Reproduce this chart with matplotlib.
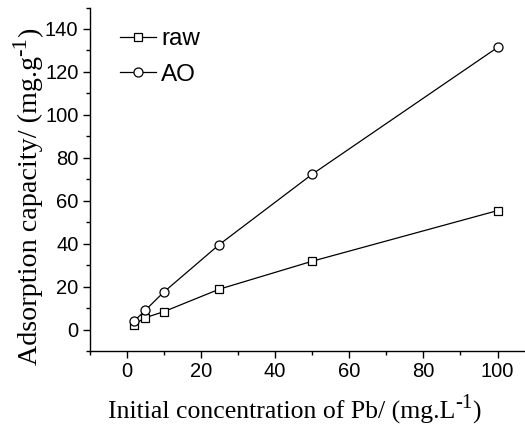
import matplotlib
matplotlib.use("Agg")
import matplotlib.pyplot as plt
from matplotlib.ticker import MultipleLocator
from matplotlib.transforms import IdentityTransform

conc = [2, 5, 10, 25, 50, 100]
raw = [2.3, 5.5, 8.3, 18.8, 31.8, 55.4]
ao = [3.9, 8.9, 17.4, 39.6, 72.3, 131.4]

plt.rcParams['font.family'] = ['Liberation Sans', 'DejaVu Sans']

W, H = 525, 425
fig = plt.figure(figsize=(W / 100, H / 100), dpi=100)
ax = fig.add_axes([89.5 / W, 1 - 351 / H, 1 - 89.5 / W, (351 - 7.5) / H])

ax.plot(conc, raw, color='black', lw=0.9, marker='s', markersize=5.5,
        markerfacecolor='white', markeredgecolor='black', markeredgewidth=0.9, label='raw')
ax.plot(conc, ao, color='black', lw=0.9, marker='o', markersize=6.5,
        markerfacecolor='white', markeredgecolor='black', markeredgewidth=0.9, label='AO')

ax.set_xlim(-10, 107.4)
ax.set_ylim(-10, 150)
ax.set_xticks([0, 20, 40, 60, 80, 100])
ax.set_yticks([0, 20, 40, 60, 80, 100, 120, 140])
ax.xaxis.set_minor_locator(MultipleLocator(10))
ax.yaxis.set_minor_locator(MultipleLocator(10))

for s in ['top', 'right']:
    ax.spines[s].set_visible(False)
for s in ['left', 'bottom']:
    ax.spines[s].set_linewidth(1.0)

ax.tick_params(which='major', direction='out', length=5, width=1.0,
               labelsize=14.5, pad=3)
ax.tick_params(which='minor', direction='out', length=3, width=1.0)

ax.legend(loc='upper left', bbox_to_anchor=((120 - 89.5) / 435.5, 0.94), frameon=False,
          prop={'family': 'Liberation Sans', 'size': 17.5}, borderpad=0,
          handlelength=1.5, handletextpad=0.2, labelspacing=0.55, borderaxespad=0)


def compose(pieces, x0, y0, size, vertical, family='Liberation Serif'):
    r = fig.canvas.get_renderer()
    pos = 0.0
    arts = []
    for txt, scale, rise in pieces:
        s = size * scale
        dr = rise * size * fig.dpi / 72
        if vertical:
            t = fig.text(x0 - dr, y0 + pos, txt, rotation=90, rotation_mode='anchor',
                         ha='left', va='baseline', fontsize=s, family=family,
                         transform=IdentityTransform())
            ext = t.get_window_extent(r).height
        else:
            t = fig.text(x0 + pos, y0 + dr, txt, ha='left', va='baseline',
                         fontsize=s, family=family, transform=IdentityTransform())
            ext = t.get_window_extent(r).width
        pos += ext
        arts.append(t)
    return pos, arts


def fitted(pieces, x0, y0, target, vertical):
    L, arts = compose(pieces, x0, y0, 18, vertical)
    for a in arts:
        a.remove()
    compose(pieces, x0, y0, 18 * target / L, vertical)


xlab = [("Initial concentration of Pb/ (mg.L", 1.0, 0.0), ("-1", 0.8, 0.4), (")", 1.0, 0.0)]
ylab = [("Adsorption capacity/ (mg.g", 1.0, 0.0), ("-1", 0.8, 0.4), (")", 1.0, 0.0)]
fitted(xlab, 108, H - 418.5, 373, False)
fitted(ylab, 37, H - 365, 336, True)

fig.savefig('out.png', dpi=100)
